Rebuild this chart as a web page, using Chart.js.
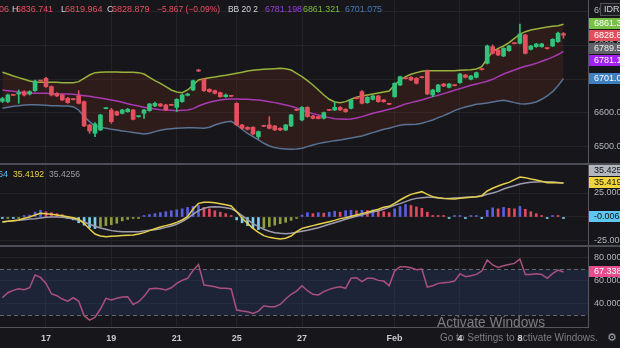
<!DOCTYPE html>
<html>
<head>
<meta charset="utf-8">
<title>IHSG 1H</title>
<script src="https://cdn.jsdelivr.net/npm/chart.js@4.4.1/dist/chart.umd.min.js"></script>
<style>
  html, body { margin: 0; padding: 0; background: #17171b; overflow: hidden; }
  #wrap { position: relative; width: 620px; height: 348px; background: #17171b; }
  #wrap canvas { position: absolute; left: 0; }
  .sep { position: absolute; left: 0; width: 620px; height: 2px; background: #4d4d55; }
</style>
</head>
<body>
<div id="wrap">
  <canvas id="priceChart" width="620" height="163" style="top:0"></canvas>
  <div class="sep" style="top:163px"></div>
  <canvas id="macdChart" width="620" height="80" style="top:165px"></canvas>
  <div class="sep" style="top:245px"></div>
  <canvas id="rsiChart" width="620" height="101" style="top:247px"></canvas>
</div>
<script>
// hourly candles, 13 Jan - 9 Feb
const open = [
  6634.4, 6633.4, 6653.0, 6655.9, 6662.8, 6655.9, 6665.7, 6695.1, 6702.0, 6677.5, 6657.9, 6653.0, 6643.2, 6640.3,
  6650.1, 6633.4, 6564.8, 6540.3, 6550.1, 6612.8, 6608.9, 6604.0, 6599.1, 6604.0, 6608.9, 6589.3,
  6599.1, 6606.9, 6620.7, 6626.5, 6623.6, 6623.6, 6616.7, 6633.4, 6652.0, 6667.7, 6724.5,
  6699.1, 6669.7, 6665.7, 6659.9, 6648.1, 6650.1, 6628.5, 6564.8, 6557.9, 6557.9, 6530.5, 6561.9, 6564.8, 6561.9, 6555.0, 6550.1, 6561.9, 6608.9,
  6579.5, 6616.7, 6591.3, 6589.3, 6584.4, 6608.9, 6608.9, 6616.7, 6610.9, 6613.8, 6643.2, 6662.8, 6630.5, 6640.3, 6650.1, 6638.3, 6626.5,
  6648.1, 6682.4, 6702.0, 6704.9, 6702.0, 6704.9, 6724.5, 6653.0, 6662.8, 6685.3, 6675.5, 6681.4, 6689.3, 6711.8, 6699.1, 6704.9, 6728.5,
  6746.1, 6795.1, 6785.3, 6767.7, 6783.3, 6804.9, 6804.9, 6829.4, 6787.3, 6795.1, 6795.1, 6790.5, 6797.1, 6809.8, 6833.406
];
const high = [
  6646.1, 6655.9, 6654.0, 6667.7, 6665.7, 6665.7, 6697.1, 6696.1, 6704.9, 6679.5, 6659.9, 6655.9, 6646.1, 6642.2,
  6665.7, 6635.4, 6566.8, 6571.7, 6596.2, 6615.8, 6613.8, 6606.0, 6610.9, 6613.8, 6610.9, 6591.3,
  6610.9, 6628.5, 6632.4, 6628.5, 6625.6, 6625.6, 6642.2, 6655.9, 6657.9, 6697.1, 6728.5,
  6702.0, 6671.6, 6667.7, 6661.8, 6655.9, 6652.0, 6630.5, 6566.8, 6559.9, 6559.9, 6547.2, 6563.8, 6589.3, 6563.8, 6556.9, 6566.8, 6596.2, 6610.9,
  6618.7, 6618.7, 6593.2, 6591.3, 6603.0, 6610.9, 6633.4, 6618.7, 6612.8, 6640.3, 6645.2, 6665.7, 6648.1, 6652.0, 6652.0, 6640.3, 6628.5,
  6689.3, 6708.9, 6704.0, 6706.9, 6704.0, 6706.9, 6726.5, 6669.7, 6684.4, 6687.3, 6687.3, 6683.4, 6716.7, 6713.8, 6710.8, 6720.6, 6730.4,
  6800.0, 6800.0, 6787.3, 6792.2, 6799.0, 6806.9, 6861.7, 6831.4, 6799.0, 6804.9, 6804.9, 6791.2, 6818.6, 6838.2, 6836.741
];
const low = [
  6630.5, 6630.5, 6651.0, 6628.5, 6650.1, 6653.0, 6663.8, 6693.2, 6675.5, 6650.1, 6648.1, 6636.3, 6628.5, 6638.3,
  6626.5, 6559.9, 6540.3, 6530.5, 6548.1, 6611.8, 6569.7, 6592.2, 6597.1, 6602.0, 6579.5, 6587.3,
  6584.4, 6605.0, 6618.7, 6618.7, 6606.9, 6621.6, 6604.0, 6631.4, 6650.1, 6665.7, 6721.6,
  6663.8, 6660.8, 6655.9, 6646.1, 6646.1, 6648.1, 6562.8, 6553.0, 6550.1, 6535.4, 6524.6, 6559.9, 6553.0, 6548.1, 6548.1, 6548.1, 6559.9, 6606.9,
  6576.6, 6587.3, 6582.4, 6582.4, 6582.4, 6606.9, 6606.9, 6606.9, 6602.0, 6611.8, 6641.2, 6626.5, 6628.5, 6638.3, 6631.4, 6631.4, 6624.6,
  6646.1, 6680.4, 6700.0, 6695.1, 6685.3, 6703.0, 6654.0, 6648.1, 6660.8, 6677.5, 6673.6, 6679.5, 6687.3, 6703.0, 6697.1, 6703.0, 6726.5,
  6744.1, 6773.5, 6768.6, 6765.7, 6781.4, 6803.0, 6803.0, 6773.5, 6785.3, 6793.1, 6793.1, 6787.5, 6795.1, 6807.8, 6819.964
];
const close = [
  6642.2, 6653.0, 6652.0, 6659.9, 6653.0, 6662.8, 6694.2, 6694.2, 6677.5, 6653.0, 6650.1, 6638.3, 6630.5, 6639.3,
  6628.5, 6561.9, 6547.2, 6567.7, 6594.2, 6613.8, 6574.6, 6594.2, 6608.9, 6610.9, 6581.5, 6590.3,
  6608.9, 6626.5, 6628.5, 6620.7, 6608.9, 6622.6, 6640.3, 6653.0, 6655.9, 6695.1, 6723.5,
  6665.7, 6662.8, 6657.9, 6648.1, 6653.0, 6649.1, 6564.8, 6555.0, 6552.1, 6538.3, 6545.2, 6560.9, 6555.0, 6550.1, 6550.1, 6564.8, 6594.2, 6607.9,
  6616.7, 6589.3, 6584.4, 6583.4, 6601.1, 6607.9, 6616.7, 6608.9, 6604.0, 6638.3, 6642.2, 6628.5, 6646.1, 6650.1, 6633.4, 6633.4, 6625.6,
  6687.3, 6706.9, 6701.0, 6697.1, 6687.3, 6703.9, 6655.9, 6667.7, 6682.4, 6679.5, 6685.3, 6680.4, 6714.7, 6704.9, 6708.9, 6718.7, 6727.5,
  6797.1, 6775.5, 6770.6, 6790.2, 6797.1, 6803.9, 6832.3, 6775.5, 6797.1, 6803.0, 6803.0, 6789.5, 6816.7, 6834.746, 6828.879
];

// Bollinger Bands (20, 2)
const bbUpper = [
  6719.6, 6714.7, 6708.9, 6704.0, 6699.1, 6694.2, 6691.2, 6690.2, 6690.2, 6690.2, 6690.2, 6689.3, 6689.3, 6689.3,
  6692.2, 6702.0, 6711.8, 6718.7, 6719.6, 6720.6, 6720.6, 6720.6, 6719.6, 6719.6, 6719.6, 6718.7,
  6714.7, 6704.9, 6695.1, 6687.3, 6677.5, 6667.7, 6661.8, 6659.9, 6667.7, 6682.4, 6697.1,
  6701.0, 6704.0, 6705.9, 6708.9, 6710.8, 6713.8, 6716.7, 6719.6, 6723.6, 6725.5, 6727.5, 6728.5, 6729.4, 6730.4, 6731.4, 6730.4, 6726.5, 6716.7,
  6706.9, 6695.1, 6682.4, 6667.7, 6653.0, 6640.3, 6632.4, 6630.5, 6633.4, 6640.3, 6646.1, 6650.1, 6653.0, 6655.9, 6658.9, 6661.8, 6664.8,
  6682.4, 6697.1, 6706.9, 6713.8, 6718.7, 6722.6, 6724.5, 6724.5, 6724.5, 6724.5, 6724.5, 6724.5, 6725.5, 6726.5, 6727.5, 6729.4, 6736.3,
  6760.8, 6780.4, 6790.2, 6797.1, 6806.9, 6819.6, 6832.3, 6839.2, 6844.1, 6847.0, 6850.0, 6852.9, 6854.9, 6856.8, 6861.321
];
const bbMid = [
  6667.7, 6665.7, 6663.8, 6661.8, 6659.9, 6658.9, 6657.9, 6657.9, 6657.9, 6656.9, 6656.9, 6655.9, 6655.9, 6655.0,
  6653.0, 6651.0, 6649.1, 6646.1, 6644.2, 6641.2, 6638.3, 6635.4, 6631.4, 6627.5, 6623.6, 6620.7,
  6616.7, 6613.8, 6611.8, 6609.9, 6608.9, 6607.9, 6606.9, 6607.9, 6608.9, 6612.8, 6620.7,
  6626.5, 6631.4, 6635.4, 6638.3, 6640.3, 6641.2, 6641.2, 6640.3, 6640.3, 6639.3, 6638.3, 6636.3, 6633.4, 6630.5, 6627.5, 6623.6, 6619.7, 6614.8,
  6608.9, 6603.0, 6598.1, 6594.2, 6589.3, 6586.4, 6583.4, 6582.4, 6581.5, 6582.4, 6585.4, 6589.3, 6594.2, 6599.1, 6603.0, 6606.9, 6610.9,
  6614.8, 6620.7, 6626.5, 6630.5, 6634.4, 6638.3, 6643.2, 6648.1, 6652.0, 6656.9, 6661.8, 6666.7, 6671.6, 6676.5, 6681.4, 6685.3, 6689.3,
  6693.2, 6699.1, 6706.9, 6714.7, 6720.6, 6726.5, 6732.4, 6737.3, 6741.2, 6746.1, 6752.0, 6757.9, 6764.5, 6772.0, 6781.198
];
const bbLower = [
  6613.8, 6616.7, 6619.7, 6621.6, 6623.6, 6624.6, 6624.6, 6623.6, 6622.6, 6621.6, 6621.6, 6620.7, 6620.7, 6618.7,
  6608.9, 6589.3, 6574.6, 6561.9, 6557.9, 6555.0, 6552.1, 6550.1, 6547.2, 6545.2, 6542.3, 6540.3,
  6538.3, 6540.3, 6545.2, 6549.1, 6552.1, 6554.0, 6555.0, 6556.0, 6556.9, 6556.9, 6556.0,
  6555.0, 6557.9, 6564.8, 6569.7, 6573.6, 6575.6, 6564.8, 6552.1, 6540.3, 6530.5, 6520.7, 6510.9, 6503.1, 6498.2, 6495.2, 6494.2, 6493.3, 6494.2,
  6496.2, 6501.1, 6506.0, 6509.9, 6512.9, 6515.8, 6518.7, 6520.7, 6523.6, 6526.6, 6529.5, 6532.5, 6537.4, 6542.3, 6547.2, 6552.1, 6555.0,
  6559.9, 6563.8, 6565.8, 6565.8, 6566.8, 6569.7, 6574.6, 6579.5, 6586.4, 6592.2, 6599.1, 6606.9, 6612.8, 6617.7, 6621.6, 6625.6, 6627.5,
  6629.5, 6632.4, 6635.4, 6637.3, 6634.4, 6630.5, 6627.5, 6626.5, 6628.5, 6632.4, 6640.3, 6650.1, 6662.8, 6680.4, 6701.075
];

// MACD line, signal and histogram
const macd = [
  -5.2, -4.5, -3.8, -3.1, -1.4, 0.0, 2.1, 3.8, 3.5, 2.8, 2.1, 1.4, 0.3, -0.7,
  -2.4, -6.6, -12.5, -17.7, -19.8, -20.5, -20.1, -19.8, -19.4, -19.1, -18.7, -17.7,
  -16.3, -14.2, -12.2, -10.4, -9.0, -7.6, -5.6, -3.1, 0.3, 8.3, 14.2,
  15.3, 15.3, 14.9, 13.9, 12.8, 11.5, 5.6, -1.4, -6.6, -11.8, -16.0, -19.4, -21.2, -22.2, -22.9, -22.2, -19.8, -15.3,
  -11.8, -10.4, -9.0, -7.6, -6.2, -4.9, -3.5, -1.7, -0.7, 0.7, 2.1, 3.5, 4.9, 6.6, 8.0, 10.1, 11.1,
  14.2, 17.7, 20.8, 23.6, 25.0, 26.4, 23.6, 21.2, 20.1, 19.4, 19.1, 18.7, 19.4, 20.1, 20.5, 21.2, 22.2,
  27.1, 29.9, 32.3, 34.4, 36.1, 38.9, 41.7, 41.0, 39.6, 38.5, 37.2, 35.8, 36.0, 35.6, 35.4192
];
const signal = [
  -4.9, -4.5, -3.8, -3.5, -2.8, -2.1, -1.7, -1.0, -0.3, 0.0, 0.0, -0.3, -1.0, -2.1,
  -3.5, -5.2, -7.6, -9.7, -11.5, -12.8, -14.2, -14.9, -15.3, -15.3, -15.3, -15.3,
  -14.6, -13.9, -13.2, -12.2, -10.8, -9.4, -7.6, -4.9, -1.4, 2.8, 6.6,
  9.0, 10.4, 10.8, 10.4, 9.7, 8.7, 5.6, 1.4, -2.8, -6.9, -10.1, -12.8, -14.9, -16.3, -17.0, -17.4, -17.0, -16.0,
  -14.9, -13.9, -12.5, -11.1, -9.4, -7.6, -5.9, -4.2, -2.4, -0.7, 0.7, 2.1, 3.8, 5.2, 6.6, 8.0, 10.1,
  12.2, 13.9, 16.0, 18.1, 19.4, 20.1, 20.5, 20.5, 19.8, 19.4, 19.4, 19.8, 20.1, 20.5, 20.8, 21.2, 21.9,
  23.6, 25.0, 26.7, 29.2, 30.9, 32.6, 34.4, 35.4, 36.1, 36.5, 36.8, 36.8, 36.5, 36.0, 35.4256
];
const hist = [
  -0.3, -0.3, -0.4, -0.3, 0.5, 2.0, 5.0, 7.0, 5.5, 4.5, 3.5, 2.5, -1.5, -3.0,
  -6.0, -8.5, -11.0, -12.0, -10.5, -9.0, -8.0, -6.5, -4.0, -2.5, -1.0, -0.5,
  1.0, 2.5, 3.5, 4.5, 5.5, 6.5, 7.5, 8.5, 10.0, 11.0, 12.0,
  10.0, 8.5, 6.5, 5.0, 3.5, 1.5, -3.0, -6.0, -9.0, -12.0, -13.0, -11.5, -10.0, -8.5, -7.0, -5.5, -3.5, -1.0,
  2.0, 4.5, 3.5, 4.5, 4.0, 5.0, 6.0, 5.0, 6.5, 7.0, 6.5, 7.0, 6.8, 7.5, 7.0, 5.5, 4.5,
  8.5, 11.0, 13.0, 12.0, 10.5, 9.0, 5.0, 0.6, 0.4, 0.3, -0.4, 0.3, 0.4, -0.3, 0.3, 0.4, -0.4,
  7.0, 9.5, 8.5, 10.0, 9.0, 8.5, 11.0, 8.0, 5.5, 3.5, 1.5, -0.6, 0.4, 0.3, -0.0064
];

// RSI 14
const rsi = [
  45.0, 49.4, 51.4, 52.9, 52.0, 53.7, 64.8, 62.7, 57.5, 48.5, 46.8, 43.9, 42.1, 45.0,
  42.1, 29.4, 25.6, 27.9, 35.2, 44.5, 43.0, 44.5, 45.6, 45.9, 39.2, 41.6,
  46.2, 52.6, 53.2, 52.9, 51.7, 53.7, 57.5, 60.1, 61.9, 68.8, 74.0,
  56.1, 55.5, 54.6, 53.2, 53.2, 52.6, 34.3, 33.4, 32.9, 31.4, 33.4, 38.1, 37.2, 37.2, 39.2, 43.9, 48.0, 50.8,
  55.5, 51.1, 48.0, 47.4, 50.3, 52.3, 53.7, 54.6, 53.2, 61.9, 62.4, 59.0, 61.9, 61.9, 60.1, 59.5, 55.5,
  68.2, 72.0, 72.0, 71.1, 69.4, 70.0, 54.3, 55.5, 57.5, 58.1, 58.4, 59.5, 65.9, 63.3, 64.2, 65.3, 68.2,
  77.8, 73.5, 71.4, 72.9, 74.0, 74.9, 78.7, 65.3, 65.3, 65.9, 65.3, 61.9, 65.9, 69.1, 67.338
];

// date marks on the time axis (candle index of the first bar of the day)
const dayTicks = [8, 20, 32, 43, 55, 72, 84, 95];
const dayLabels = ['17', '19', '21', '25', '27', 'Feb', '4', '8'];

const priceLevels = [6500, 6600, 6700, 6800, 6900];
const macdLevels = [-25, 0, 25];
const rsiLevels = [40, 60, 80];
const rsiUpper = 70, rsiLower = 30;

const FONT = '"Liberation Sans", Arial, sans-serif';
const GRID = '#232328';
const LINE = '#55555d';
const AXIS_TEXT = '#b2b5be';
const UP = '#31c27b', DOWN = '#e4505e';
const X_MIN = -0.44, X_MAX = 107.5;

Chart.defaults.font.family = FONT;
Chart.defaults.font.size = 9;

const idx = open.map((_, i) => i);
const last = open.length - 1;
const candleColors = idx.map(i => close[i] >= open[i] ? UP : DOWN);
const histColors = hist.map((v, i) => {
  const prev = i ? hist[i - 1] : 0;
  if (v >= 0) return v >= prev ? '#5a5fe0' : '#e2485e';
  return v < prev ? '#7cd0ee' : '#8f9d3e';
});

function xAxis(withLabels) {
  return {
    type: 'linear', min: X_MIN, max: X_MAX, offset: false,
    grid: { color: GRID, drawTicks: false, offset: false },
    border: { display: withLabels, color: LINE },
    ticks: {
      display: withLabels, autoSkip: false, maxRotation: 0, padding: 6,
      color: '#c9c9ce', font: { size: 9, weight: 'bold' },
      callback: v => dayLabels[dayTicks.indexOf(v)] || ''
    },
    afterBuildTicks: s => { s.ticks = dayTicks.map(v => ({ value: v })); },
    afterFit: s => { s.height = withLabels ? 21 : 0; }
  };
}

function yAxis(min, max, levels) {
  return {
    position: 'right', min: min, max: max,
    grid: { color: GRID, drawTicks: false },
    border: { display: true, color: LINE },
    ticks: { display: false },
    afterBuildTicks: s => { s.ticks = levels.map(v => ({ value: v })); },
    afterFit: s => { s.width = 32; }
  };
}

function baseOptions(yScale, withLabels) {
  return {
    responsive: false, animation: false, devicePixelRatio: 1, events: [],
    layout: { padding: 0 },
    plugins: { legend: { display: false }, tooltip: { enabled: false } },
    scales: { x: xAxis(withLabels), y: yScale }
  };
}

function drawLevels(chart, levels, digits) {
  const ctx = chart.ctx, s = chart.scales.y;
  ctx.save();
  ctx.font = '9px ' + FONT;
  ctx.fillStyle = AXIS_TEXT;
  ctx.textBaseline = 'middle';
  levels.forEach(v => ctx.fillText(v.toFixed(digits), s.left + 6, s.getPixelForValue(v)));
  ctx.restore();
}

// coloured last-value tags on the price scale; dir 1 pushes overlaps down, -1 up
function drawTags(chart, tags, dir) {
  const ctx = chart.ctx, s = chart.scales.y, h = 12;
  const items = tags.map(t => Object.assign({ y: s.getPixelForValue(t.value) }, t));
  items.sort((a, b) => dir * (a.y - b.y));
  for (let k = 1; k < items.length; k++) {
    const lim = items[k - 1].y + dir * h;
    if (dir * (items[k].y - lim) < 0) items[k].y = lim;
  }
  ctx.save();
  ctx.font = '9px ' + FONT;
  ctx.textBaseline = 'middle';
  items.forEach(t => {
    const top = Math.round(t.y - h / 2);
    ctx.fillStyle = t.bg;
    ctx.fillRect(s.left + 1, top, s.width, h - 1);
    ctx.fillStyle = t.fg;
    ctx.fillText(t.text, s.left + 6, top + h / 2);
  });
  ctx.restore();
}

function drawRow(ctx, parts, y) {
  ctx.textBaseline = 'middle';
  parts.forEach(p => {
    ctx.fillStyle = p[2];
    if (p[3]) ctx.fillText(p[0], p[1], y, p[3]); else ctx.fillText(p[0], p[1], y);
  });
}

const fmtSigned = (v, d) => v.toFixed(d).replace('-', '\u2212');

const priceDecor = {
  id: 'priceDecor',
  afterDraw(chart) {
    const ctx = chart.ctx;
    drawLevels(chart, priceLevels, 2);
    drawTags(chart, [
      { value: bbUpper[last], text: bbUpper[last].toFixed(3), bg: '#76c043', fg: '#ffffff' },
      { value: close[last], text: close[last].toFixed(3), bg: '#e0505c', fg: '#ffffff' },
      { value: close[last - 3], text: close[last - 3].toFixed(3), bg: '#5f6068', fg: '#f0f0f0' },
      { value: bbMid[last], text: bbMid[last].toFixed(3), bg: '#a022ec', fg: '#ffffff' },
      { value: bbLower[last], text: bbLower[last].toFixed(3), bg: '#3f80c2', fg: '#ffffff' }
    ], 1);

    ctx.save();
    ctx.font = '9px ' + FONT;
    // IDR currency box
    ctx.fillStyle = '#1d1d22';
    ctx.fillRect(600, 3, 22, 13);
    ctx.strokeStyle = '#505058';
    ctx.strokeRect(600.5, 3.5, 22, 12);
    drawRow(ctx, [['IDR \u25BE', 604, '#d1d4dc']], 10);

    // OHLC + BB legend
    const chg = close[last] - close[last - 1];
    const pct = chg / close[last - 1] * 100;
    ctx.textAlign = 'right';
    drawRow(ctx, [['O' + open[last].toFixed(3), 9, DOWN]], 10);
    ctx.textAlign = 'left';
    drawRow(ctx, [
      ['H', 12, '#d1d4dc'], [high[last].toFixed(3), 16, DOWN, 37],
      ['L', 61, '#d1d4dc'], [low[last].toFixed(3), 65, DOWN, 38],
      ['C', 107, '#d1d4dc'], [close[last].toFixed(3), 112, DOWN, 38],
      [fmtSigned(chg, 3) + ' (' + fmtSigned(pct, 2) + '%)', 157, DOWN, 63],
      ['BB 20 2', 228, '#d1d4dc', 30],
      [bbMid[last].toFixed(3), 265, '#9a3fd8', 37],
      [bbUpper[last].toFixed(3), 303, '#7dbb3c', 37],
      [bbLower[last].toFixed(3), 345, '#4a7ab3', 37]
    ], 10);
    ctx.restore();
  }
};

const macdDecor = {
  id: 'macdDecor',
  afterDraw(chart) {
    const ctx = chart.ctx;
    drawLevels(chart, macdLevels, 4);
    drawTags(chart, [
      { value: hist[last], text: hist[last].toFixed(4), bg: '#5ec8f2', fg: '#111111' },
      { value: macd[last], text: macd[last].toFixed(4), bg: '#f2d53c', fg: '#111111' },
      { value: signal[last], text: signal[last].toFixed(4), bg: '#b4b6be', fg: '#111111' }
    ], -1);
    ctx.save();
    ctx.font = '9px ' + FONT;
    ctx.textAlign = 'right';
    drawRow(ctx, [[hist[last].toFixed(4), 8, '#4fc3f7']], 10);
    ctx.textAlign = 'left';
    drawRow(ctx, [
      [macd[last].toFixed(4), 13, '#e8cf45', 31],
      [signal[last].toFixed(4), 49, '#9c9ca8', 31]
    ], 10);
    ctx.restore();
  }
};

const rsiDecor = {
  id: 'rsiDecor',
  beforeDatasetsDraw(chart) {
    const { ctx, chartArea: a, scales: { y } } = chart;
    const top = Math.round(y.getPixelForValue(rsiUpper)) + 0.5;
    const bot = Math.round(y.getPixelForValue(rsiLower)) + 0.5;
    ctx.save();
    ctx.fillStyle = 'rgba(45, 60, 105, 0.36)';
    ctx.fillRect(a.left, top, a.right - a.left, bot - top);
    ctx.setLineDash([4, 3]);
    ctx.strokeStyle = '#64666f';
    ctx.lineWidth = 1;
    [top, bot].forEach(p => {
      ctx.beginPath();
      ctx.moveTo(a.left, p);
      ctx.lineTo(a.right, p);
      ctx.stroke();
    });
    ctx.restore();
  },
  afterDraw(chart) {
    const ctx = chart.ctx;
    drawLevels(chart, rsiLevels, 4);
    drawTags(chart, [
      { value: rsi[last], text: rsi[last].toFixed(4), bg: '#e94c8c', fg: '#ffffff' }
    ], 1);
    ctx.save();
    ctx.textBaseline = 'middle';
    ctx.fillStyle = 'rgba(205, 205, 210, 0.55)';
    ctx.font = '14px ' + FONT;
    ctx.fillText('Activate Windows', 437, 76, 108);
    ctx.font = '10px ' + FONT;
    ctx.fillText('Go to Settings to activate Windows.', 440, 91, 158);
    ctx.fillStyle = '#a6a8b0';
    ctx.font = '11px "DejaVu Sans"';
    ctx.fillText('\u2699', 607, 91);
    ctx.restore();
  }
};

// price pane: candles drawn as floating bars (wick + body) over the bands
new Chart(document.getElementById('priceChart').getContext('2d'), {
  type: 'bar',
  data: {
    datasets: [
      {
        label: 'body', order: 0, grouped: false, barThickness: 4, minBarLength: 1, borderWidth: 0,
        backgroundColor: candleColors,
        data: idx.map(i => ({ x: i, y: [open[i], close[i]] }))
      },
      {
        label: 'wick', order: 1, grouped: false, barThickness: 1, minBarLength: 1, borderWidth: 0,
        backgroundColor: candleColors,
        data: idx.map(i => ({ x: i, y: [low[i], high[i]] }))
      },
      {
        type: 'line', label: 'BB upper', order: 4, borderColor: '#98b23c', borderWidth: 1.5,
        pointRadius: 0, fill: '+2', backgroundColor: 'rgba(120, 45, 30, 0.24)',
        data: idx.map(i => ({ x: i, y: bbUpper[i] }))
      },
      {
        type: 'line', label: 'BB basis', order: 2, borderColor: '#a83bb4', borderWidth: 1.5,
        pointRadius: 0, fill: false,
        data: idx.map(i => ({ x: i, y: bbMid[i] }))
      },
      {
        type: 'line', label: 'BB lower', order: 3, borderColor: '#5a7294', borderWidth: 1.5,
        pointRadius: 0, fill: false,
        data: idx.map(i => ({ x: i, y: bbLower[i] }))
      }
    ]
  },
  options: baseOptions(yAxis(6452.9, 6932.4, priceLevels), false),
  plugins: [priceDecor]
});

// MACD pane
new Chart(document.getElementById('macdChart').getContext('2d'), {
  type: 'bar',
  data: {
    datasets: [
      {
        type: 'line', label: 'MACD', order: 0, borderColor: '#e6cf4a', borderWidth: 1.5, pointRadius: 0,
        data: idx.map(i => ({ x: i, y: macd[i] }))
      },
      {
        type: 'line', label: 'Signal', order: 1, borderColor: '#9d9dae', borderWidth: 1.5, pointRadius: 0,
        data: idx.map(i => ({ x: i, y: signal[i] }))
      },
      {
        label: 'Histogram', order: 2, grouped: false, barThickness: 2, minBarLength: 1.5, borderWidth: 0,
        backgroundColor: histColors,
        data: idx.map(i => ({ x: i, y: hist[i] }))
      }
    ]
  },
  options: baseOptions(yAxis(-29.17, 54.17, macdLevels), false),
  plugins: [macdDecor]
});

// RSI pane with the date axis
new Chart(document.getElementById('rsiChart').getContext('2d'), {
  type: 'line',
  data: {
    datasets: [{
      label: 'RSI', borderColor: '#a9507e', borderWidth: 1.5, pointRadius: 0,
      data: idx.map(i => ({ x: i, y: rsi[i] }))
    }]
  },
  options: baseOptions(yAxis(19.57, 89.13, rsiLevels), true),
  plugins: [rsiDecor]
});
</script>
</body>
</html>
